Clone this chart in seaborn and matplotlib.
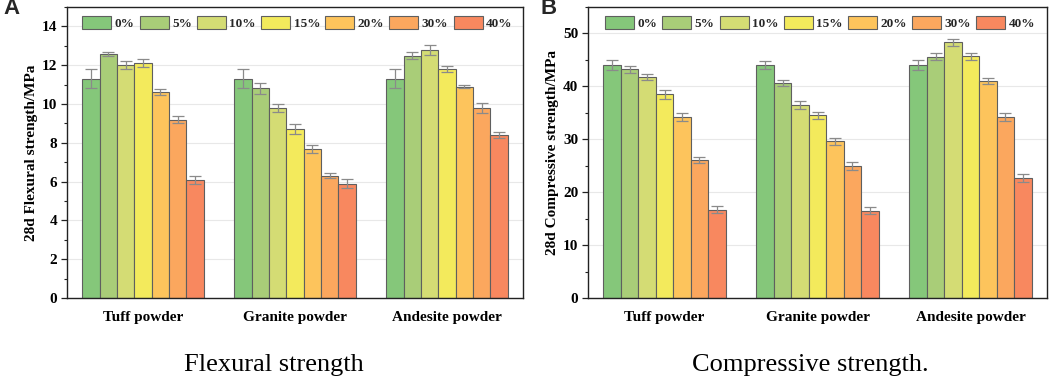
import pandas as pd
import numpy as np
import matplotlib
matplotlib.use("Agg")
import matplotlib.pyplot as plt
from matplotlib.ticker import MultipleLocator
import seaborn as sns

# Dados
powders = ["Tuff powder", "Granite powder", "Andesite powder"]
levels = ["0%", "5%", "10%", "15%", "20%", "30%", "40%"]

flexural = [
    [11.3, 12.6, 12.0, 12.1, 10.6, 9.2, 6.1],
    [11.3, 10.8, 9.8, 8.7, 7.7, 6.3, 5.9],
    [11.3, 12.5, 12.8, 11.8, 10.9, 9.8, 8.4],
]
flexural_err = [
    [0.5, 0.1, 0.2, 0.2, 0.15, 0.2, 0.2],
    [0.5, 0.3, 0.2, 0.25, 0.2, 0.12, 0.25],
    [0.5, 0.2, 0.25, 0.15, 0.1, 0.25, 0.15],
]
compressive = [
    [44.0, 43.2, 41.8, 38.5, 34.2, 26.1, 16.7],
    [44.0, 40.6, 36.5, 34.5, 29.6, 24.9, 16.5],
    [44.0, 45.6, 48.3, 45.7, 41.0, 34.2, 22.7],
]
compressive_err = [
    [0.9, 0.6, 0.6, 0.8, 0.8, 0.6, 0.7],
    [0.8, 0.6, 0.8, 0.7, 0.7, 0.8, 0.7],
    [0.9, 0.7, 0.7, 0.7, 0.6, 0.8, 0.8],
]
colors = ["#85C77A", "#A9CD78", "#D4DC74", "#F3EA5C", "#FDC45C", "#FBA75E", "#F8885F"]

sns.set_theme(style="whitegrid")
plt.rcParams['font.family'] = ['Liberation Serif', 'DejaVu Serif']
plt.rcParams['font.weight'] = 'bold'


def make_df(values, errs):
    rows = []
    for i, p in enumerate(powders):
        for j, lv in enumerate(levels):
            rows.append({'powder': p, 'level': lv, 'value': values[i][j], 'err': errs[i][j]})
    return pd.DataFrame(rows)


def draw(ax, values, errs, ylabel, ymax, step):
    df = make_df(values, errs)
    sns.barplot(data=df, x='powder', y='value', hue='level', hue_order=levels,
                palette=colors, saturation=1, errorbar=None, edgecolor='#5f5f5f',
                linewidth=0.8, width=0.8, ax=ax, zorder=2)
    # barras de erro sobre o centro de cada barra
    bar_groups = list(ax.containers)
    for j, cont in enumerate(bar_groups):
        xs = [b.get_x() + b.get_width() / 2 for b in cont]
        ys = [b.get_height() for b in cont]
        e = df[df['level'] == levels[j]]['err'].values
        ax.errorbar(xs, ys, yerr=e, fmt='none', ecolor='#8a8a8a', elinewidth=0.9,
                    capsize=4, capthick=0.9, zorder=3)
    ax.set_ylim(0, ymax)
    ax.set_xlim(-0.5, 2.5)
    ax.yaxis.set_major_locator(MultipleLocator(step))
    ax.yaxis.set_minor_locator(MultipleLocator(step / 2))
    ax.grid(axis='y', color='#e8e8e8', linewidth=0.8, zorder=0)
    ax.grid(axis='x', visible=False)
    ax.set_axisbelow(True)
    for s in ax.spines.values():
        s.set_color('#222222')
        s.set_linewidth(1.0)
    ax.tick_params(axis='y', which='major', left=True, length=4, width=0.9, color='#222222',
                   labelsize=11, pad=3)
    ax.tick_params(axis='y', which='minor', left=True, length=2, width=0.8, color='#222222')
    ax.tick_params(axis='x', bottom=False, labelsize=11, pad=3)
    for t in ax.get_xticklabels() + ax.get_yticklabels():
        t.set_fontweight('bold')
        t.set_color('black')
    ax.set_xlabel('')
    ax.set_ylabel(ylabel, fontsize=11, fontweight='bold', color='black', labelpad=3)
    ax.legend(loc='center', ncol=7, frameon=False, bbox_to_anchor=(0.505, 1 - 16 / 291),
              handlelength=2.2, handleheight=1.1, handletextpad=0.25, columnspacing=0.4,
              borderpad=0.2,
              prop={'family': 'Liberation Serif', 'weight': 'bold', 'size': 9.5})


fig = plt.figure(figsize=(10.52, 3.81), dpi=100)
ax1 = fig.add_axes([67 / 1052, 83 / 381, 456 / 1052, 291 / 381])
ax2 = fig.add_axes([588 / 1052, 83 / 381, 459 / 1052, 291 / 381])

draw(ax1, flexural, flexural_err, '28d Flexural strength/MPa', 15, 2)
draw(ax2, compressive, compressive_err, '28d Compressive strength/MPa', 55, 10)

fig.text(274 / 1052, 1 - 365 / 381, 'Flexural strength', ha='center', va='center',
         fontsize=19, fontweight='normal', color='black')
fig.text(810 / 1052, 1 - 365 / 381, 'Compressive strength.', ha='center', va='center',
         fontsize=19, fontweight='normal', color='black')

fig.text(3 / 1052, 1 - 9 / 381, 'A', fontsize=16, fontweight='bold', va='center', ha='left',
         family=['Liberation Sans', 'DejaVu Sans'])
fig.text(541 / 1052, 1 - 9 / 381, 'B', fontsize=16, fontweight='bold', va='center', ha='left',
         family=['Liberation Sans', 'DejaVu Sans'])

fig.savefig('out.png', dpi=100)
